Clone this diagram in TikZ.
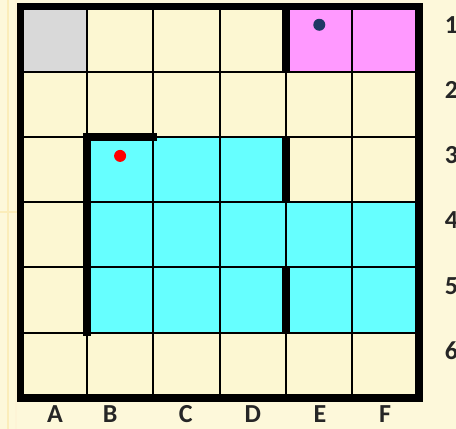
\documentclass[tikz,border=0pt]{standalone}
\usepackage{fontspec}
\setmainfont{Carlito}
\usepackage{tikz}
\usetikzlibrary{positioning}

\definecolor{paper}{HTML}{FDF8DA}
\definecolor{cellfill}{HTML}{FCF7D2}
\definecolor{stripe}{HTML}{FBEDBA}
\definecolor{startgray}{HTML}{D9D9D9}
\definecolor{goalpink}{HTML}{FF99FF}
\definecolor{roomcyan}{HTML}{66FFFF}
\definecolor{navydot}{HTML}{1F3864}

\begin{document}
\begin{tikzpicture}[
    x=66.4pt, y=-65.25pt,
    gridline/.style={line width=2pt, black},
    wall/.style={line width=7.5pt, black, line cap=rect},
    label text/.style={font=\fontsize{26}{30}\selectfont\bfseries, text=black!85, inner sep=0pt}
]

\fill[paper] (-0.309,-0.0996) rectangle (6.559,6.475);
\useasboundingbox (-0.309,-0.0996) rectangle (6.559,6.475);

\fill[stripe] (-0.20,-0.0996) rectangle (-0.17,6.475);
\fill[stripe!60] (-0.08,-0.0996) rectangle (-0.05,6.475);
\fill[stripe] (-0.309,3.13) rectangle (0,3.17);

\fill[cellfill] (0,0) rectangle (6,6);

\fill[startgray] (0,0) rectangle (1,1);
\fill[goalpink] (4,0) rectangle (6,1);
\fill[roomcyan] (1,2) rectangle (4,3);
\fill[roomcyan] (1,3) rectangle (6,5);

\foreach \k in {1,...,5} {
    \draw[gridline] (\k,0) -- (\k,6);
    \draw[gridline] (0,\k) -- (6,\k);
}

\coordinate (nw) at (0,0);
\coordinate (se) at (6,6);
\draw[wall] (nw) rectangle (se);

\coordinate (roomtop) at (2,2);
\coordinate (roomcorner) at (1,2);
\coordinate (roomfoot) at (1,5);
\draw[wall] (roomtop) -- (roomcorner) -- (roomfoot);

\coordinate (wa1) at (4,0);
\coordinate (wa2) at (4,1);
\coordinate (wb1) at (4,2);
\coordinate (wb2) at (4,3);
\coordinate (wc1) at (4,4);
\coordinate (wc2) at (4,5);
\draw[wall, line cap=butt] (wa1) -- (wa2);
\draw[wall, line cap=butt] (wb1) -- (wb2);
\draw[wall, line cap=butt] (wc1) -- (wc2);

\fill[navydot] (4.5,0.28) circle (6pt);
\fill[red] (1.5,2.29) circle (6pt);

\node[label text] (colA) at (0.52,6.25) {A};
\node[label text] (colB) at (1.35,6.25) {B};
\node[label text] (colC) at (2.49,6.25) {C};
\node[label text] (colD) at (3.50,6.25) {D};
\node[label text] (colE) at (4.51,6.25) {E};
\node[label text] (colF) at (5.49,6.25) {F};

\node[label text, anchor=west] (row1) at (6.39,0.28) {1};
\node[label text, anchor=west] (row2) at (6.39,1.28) {2};
\node[label text, anchor=west] (row3) at (6.39,2.28) {3};
\node[label text, anchor=west] (row4) at (6.39,3.28) {4};
\node[label text, anchor=west] (row5) at (6.39,4.28) {5};
\node[label text, anchor=west] (row6) at (6.39,5.28) {6};

\end{tikzpicture}
\end{document}
